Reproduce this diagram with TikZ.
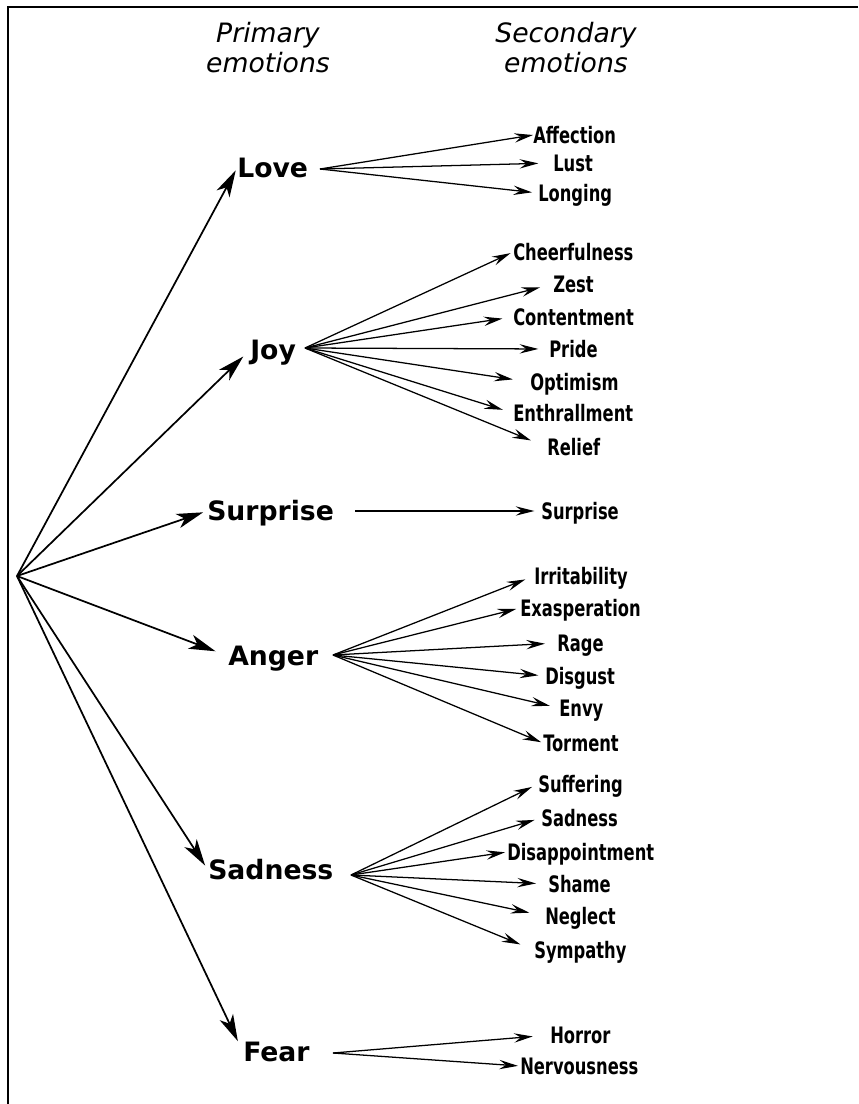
\documentclass[tikz,border=0pt]{standalone}
\usepackage{fontspec}
\usetikzlibrary{arrows.meta}
\newfontfamily\headfont{DejaVu Sans}
\newfontfamily\secfont[FakeStretch=0.8]{DejaVu Sans Condensed Bold}
\tikzset{
	prim/.style={line width=1.3pt, -{Stealth[length=20pt,width=11pt,inset=5.5pt]}},
	sec/.style={line width=0.95pt, -{Stealth[length=14pt,width=7pt,inset=5pt]}},
	primlabel/.style={anchor=west, inner sep=0pt, text height=14.6pt, text depth=0pt, font=\headfont\bfseries\fontsize{20}{24}\selectfont},
	seclabel/.style={anchor=west, inner sep=0pt, text height=12.4pt, text depth=0pt, font=\secfont\fontsize{17}{20}\selectfont},
	headlabel/.style={align=center, inner sep=0pt, font=\headfont\itshape\fontsize{20}{22.5}\selectfont},
}
\begin{document}
\begin{tikzpicture}[x=0.75pt,y=0.75pt,yscale=-1,xscale=1]
		\useasboundingbox (0,0) rectangle (858,1104);
		\draw [line width=1.5pt] (858,6.5) -- (8,6.5) -- (8,1104) ;
		% headings
		\node [headlabel] (hprim) at (268,48) {Primary\\emotions};
		\node [headlabel] (hsec) at (566,48) {Secondary\\emotions};
		% primary emotions
		\coordinate (root) at (17,576);
		\node [primlabel] (love) at (237,168) {Love};
		\node [primlabel] (joy) at (250,350) {Joy};
		\node [primlabel] (surprise) at (207,511) {Surprise};
		\node [primlabel] (anger) at (228,656) {Anger};
		\node [primlabel] (sadness) at (208,870) {Sadness};
		\node [primlabel] (fear) at (243,1052) {Fear};
		\draw [prim, shorten >=2pt] (root) -- (love.west) ;
		\draw [prim, shorten >=7pt] (root) -- (joy.west) ;
		\draw [prim, shorten >=3pt] (root) -- (surprise.west) ;
		\draw [prim, shorten >=10pt] (root) -- (anger.west) ;
		\draw [prim, shorten >=4pt] (root) -- (sadness.west) ;
		\draw [prim, shorten >=9pt] (root) -- (fear.west) ;
		% love
		\coordinate (lovefan) at (320,169);
		\node [seclabel] (affection) at (533,135) {Affection};
		\node [seclabel] (lust) at (553,163) {Lust};
		\node [seclabel] (longing) at (538,193) {Longing};
		\draw [sec] (lovefan) -- (affection.west) ;
		\draw [sec, shorten >=11pt] (lovefan) -- (lust.west) ;
		\draw [sec, shorten >=4.5pt] (lovefan) -- (longing.west) ;
		% joy
		\coordinate (joyfan) at (305,348);
		\node [seclabel] (cheer) at (513,252) {Cheerfulness};
		\node [seclabel] (zest) at (553,284) {Zest};
		\node [seclabel] (content) at (513,317) {Contentment};
		\node [seclabel] (pride) at (549,349) {Pride};
		\node [seclabel] (optimism) at (530,382) {Optimism};
		\node [seclabel] (enthral) at (513,413) {Enthrallment};
		\node [seclabel] (relief) at (547,447) {Relief};
		\draw [sec, shorten >=2pt] (joyfan) -- (cheer.west) ;
		\draw [sec, shorten >=10pt] (joyfan) -- (zest.west) ;
		\draw [sec, shorten >=8pt] (joyfan) -- (content.west) ;
		\draw [sec, shorten >=8pt] (joyfan) -- (pride.west) ;
		\draw [sec, shorten >=13pt] (joyfan) -- (optimism.west) ;
		\draw [sec, shorten >=8pt] (joyfan) -- (enthral.west) ;
		\draw [sec, shorten >=13pt] (joyfan) -- (relief.west) ;
		% surprise
		\coordinate (surprisefan) at (355,511);
		\node [seclabel] (surprise2) at (541,511) {Surprise};
		\draw [sec, shorten >=5pt] (surprisefan) -- (surprise2.west) ;
		% anger
		\coordinate (angerfan) at (333,655);
		\node [seclabel] (irrit) at (534,576) {Irritability};
		\node [seclabel] (exasp) at (520,608) {Exasperation};
		\node [seclabel] (rage) at (557,643) {Rage};
		\node [seclabel] (disgust) at (545,676) {Disgust};
		\node [seclabel] (envy) at (559,708) {Envy};
		\node [seclabel] (torment) at (543,743) {Torment};
		\draw [sec, shorten >=7pt] (angerfan) -- (irrit.west) ;
		\draw [sec, shorten >=3pt] (angerfan) -- (exasp.west) ;
		\draw [sec, shorten >=9pt] (angerfan) -- (rage.west) ;
		\draw [sec, shorten >=5pt] (angerfan) -- (disgust.west) ;
		\draw [sec, shorten >=7pt] (angerfan) -- (envy.west) ;
		\draw [sec, shorten >=1.5pt] (angerfan) -- (torment.west) ;
		% sadness
		\coordinate (sadnessfan) at (351,875);
		\node [seclabel] (suffer) at (538,784) {Suffering};
		\node [seclabel] (sadness2) at (541,818) {Sadness};
		\node [seclabel] (disapp) at (507,852) {Disappointment};
		\node [seclabel] (shame) at (548,884) {Shame};
		\node [seclabel] (neglect) at (545,916) {Neglect};
		\node [seclabel] (sympathy) at (534,950) {Sympathy};
		\draw [sec, shorten >=5pt] (sadnessfan) -- (suffer.west) ;
		\draw [sec, shorten >=5pt] (sadnessfan) -- (sadness2.west) ;
		\draw [sec, shorten >=1.5pt] (sadnessfan) -- (disapp.west) ;
		\draw [sec, shorten >=9pt] (sadnessfan) -- (shame.west) ;
		\draw [sec, shorten >=12pt] (sadnessfan) -- (neglect.west) ;
		\draw [sec, shorten >=11pt] (sadnessfan) -- (sympathy.west) ;
		% fear
		\coordinate (fearfan) at (333,1053);
		\node [seclabel] (horror) at (550,1035) {Horror};
		\node [seclabel] (nervous) at (520,1066) {Nervousness};
		\draw [sec, shorten >=13pt] (fearfan) -- (horror.west) ;
		\draw [sec, shorten >=1.5pt] (fearfan) -- (nervous.west) ;
\end{tikzpicture}
\end{document}
